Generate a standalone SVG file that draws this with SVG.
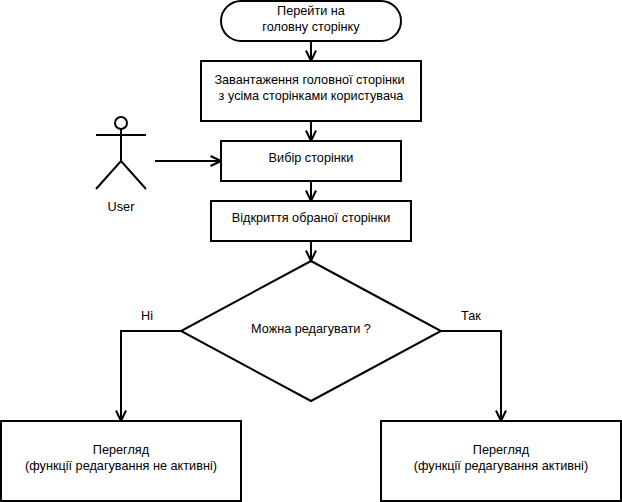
<svg xmlns="http://www.w3.org/2000/svg" width="622" height="502" viewBox="0 0 622 502">
<defs><marker id="a" markerUnits="userSpaceOnUse" markerWidth="14" markerHeight="14" refX="12" refY="7" orient="auto" viewBox="0 0 14 14"><path d="M1.500 2L12 7L1.500 12" fill="none" stroke="#000" stroke-width="2"/></marker></defs>
<style>
.s{fill:#fff;stroke:#000;stroke-width:2}
.c{fill:none;stroke:#000;stroke-width:2;marker-end:url(#a)}
.l{fill:none;stroke:#000;stroke-width:2}
text{font-family:"Liberation Sans",Arial,sans-serif;font-size:12.7px;text-anchor:middle;fill:#000}
</style>
<rect width="622" height="502" fill="#fff"/>
<g id="connectors">
<path class="c" d="M311 41V61"/>
<path class="c" d="M311 121V141"/>
<path class="c" d="M311 181V201"/>
<path class="c" d="M311 241V261"/>
<path class="c" d="M155 161H221"/>
<path class="c" d="M181 331H121V421"/>
<path class="c" d="M441 331H501V421"/>
</g>
<g id="start"><rect class="s" x="221" y="1" width="180" height="40" rx="20" ry="20"/><text x="311" y="15">Перейти на</text><text x="311" y="31">головну сторінку</text></g>
<g id="load"><rect class="s" x="201" y="61" width="220" height="60"/><text x="309.500" y="84">Завантаження головної сторінки</text><text x="311" y="100">з усіма сторінками користувача</text></g>
<g id="select"><rect class="s" x="221" y="141" width="180" height="40"/><text x="311" y="162">Вибір сторінки</text></g>
<g id="open"><rect class="s" x="211" y="201" width="200" height="40"/><text x="311" y="222">Відкриття обраної сторінки</text></g>
<g id="user"><circle class="l" cx="121" cy="123" r="6"/><path class="l" d="M96 135H146M121 129V161M96 189L121 161L146 189"/><text x="121" y="211">User</text></g>
<g id="decision"><path class="s" d="M311 261L441 331L311 401L181 331Z"/><text x="311" y="333">Можна редагувати ?</text></g>
<g id="no-label"><text x="147" y="320">Ні</text></g>
<g id="yes-label"><text x="471" y="320">Так</text></g>
<g id="view-off"><rect class="s" x="1" y="421" width="240" height="80"/><text x="121" y="454">Перегляд</text><text x="121" y="470">(функції редагування не активні)</text></g>
<g id="view-on"><rect class="s" x="381" y="421" width="240" height="80"/><text x="501" y="454">Перегляд</text><text x="501" y="470">(функції редагування активні)</text></g>
</svg>
